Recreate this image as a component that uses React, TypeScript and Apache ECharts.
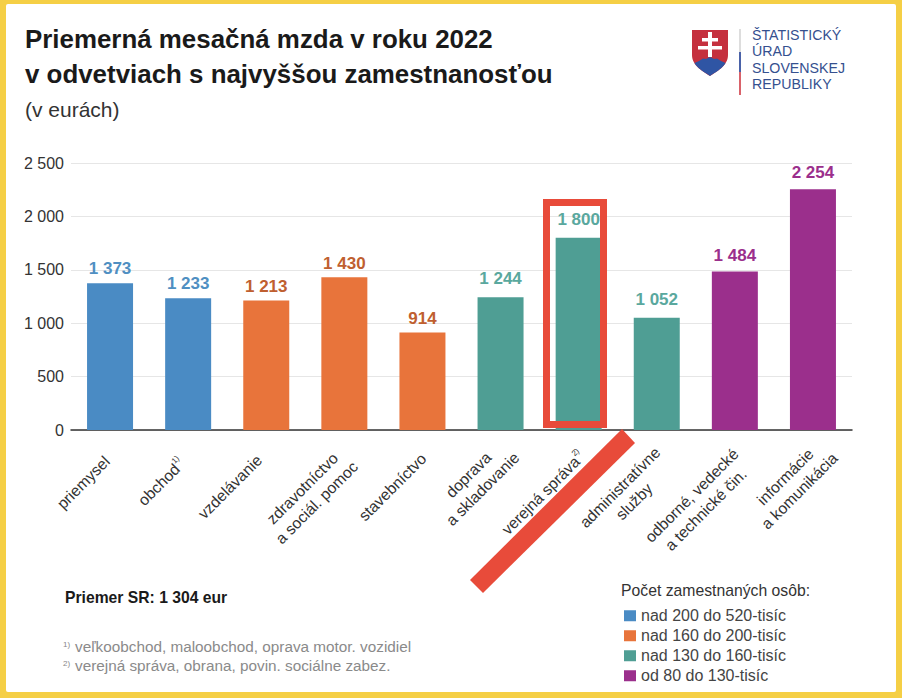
import React, { useEffect, useRef } from "react";
import * as echarts from "echarts";

const categories = [
  "priemysel",
  "obchod",
  "vzdelávanie",
  "zdravotníctvo\na sociál. pomoc",
  "stavebníctvo",
  "doprava\na skladovanie",
  "verejná správa",
  "administratívne\nslužby",
  "odborné, vedecké\na technické čin.",
  "informácie\na komunikácia",
];
const footnoteMarks: Record<string, string> = { obchod: "1)", "verejná správa": "2)" };
// [top, right] inset of each rotated label, tuned separately from the data
const labelInsets = [
  [31.4, 20],
  [31, 24],
  [24, 22],
  [38.4, 14],
  [33.4, 15],
  [33, 4],
  [34, 12],
  [44, 11],
  [46.4, 12],
  [42, 0],
];

const blueValues = [1373, 1233, null, null, null, null, null, null, null, null];
const orangeValues = [null, null, 1213, 1430, 914, null, null, null, null, null];
const tealValues = [null, null, null, null, null, 1244, 1800, 1052, null, null];
const purpleValues = [null, null, null, null, null, null, null, null, 1484, 2254];

const legendNames = ["nad 200 do 520-tisíc", "nad 160 do 200-tisíc", "nad 130 do 160-tisíc", "od 80 do 130-tisíc"];
const barColors = ["#4a8bc4", "#e8743b", "#4f9e94", "#9b2f8c"];
const labelColors = ["#4f8fc2", "#bf5f30", "#5aa89e", "#9b2f8c"];
const labelDistances = [6, 5, 10, 8];

const titleLines = ["Priemerná mesačná mzda v roku 2022", "v odvetviach s najvyššou zamestnanosťou"];
const logoLines = ["ŠTATISTICKÝ", "ÚRAD", "SLOVENSKEJ", "REPUBLIKY"];
const FONT = "'Liberation Sans', Arial, sans-serif";
const RED = "#e84b3a";

const spaced = (v: number) => {
  const s = String(v);
  return s.length > 3 ? s.slice(0, -3) + " " + s.slice(-3) : s;
};

echarts.graphic.registerShape(
  "shieldRed",
  echarts.graphic.extendPath("M692 30 H728 V55 C728 66 716 72 710 76 C704 72 692 66 692 55 Z", {})
);
echarts.graphic.registerShape(
  "shieldBlue",
  echarts.graphic.extendPath(
    "M694.5 63 L699 61 L703 58.5 L706 59 L710 57 L714 59 L717 58.5 L721 61 L725.5 63 C722 69 714 73 710 76 C706 73 698 69 694.5 63 Z",
    {}
  )
);

export default function App() {
  const ref = useRef<HTMLDivElement>(null);
  useEffect(() => {
    document.body.style.margin = "0";
    const chart = echarts.init(ref.current!, null, { renderer: "svg" });
    const series = [blueValues, orangeValues, tealValues, purpleValues].map((data, i) => ({
      type: "bar" as const,
      name: legendNames[i],
      data,
      barWidth: 46,
      barGap: "-100%",
      itemStyle: { color: barColors[i] },
      label: {
        show: true,
        position: "top" as const,
        distance: labelDistances[i],
        fontFamily: FONT,
        fontSize: 17,
        fontWeight: "bold" as const,
        color: labelColors[i],
        formatter: (p: any) => spaced(p.value),
      },
    }));
    chart.setOption({
      animation: false,
      textStyle: { fontFamily: FONT },
      grid: { left: 71, right: 50, top: 163, height: 267 },
      xAxis: {
        type: "category",
        data: categories.map((value, i) => ({
          value,
          textStyle: { padding: [labelInsets[i][0], labelInsets[i][1], 0, 0] },
        })),
        axisTick: { show: false },
        axisLine: { lineStyle: { color: "#333", width: 1.5 } },
        axisLabel: {
          interval: 0,
          rotate: 45,
          margin: 3.5,
          color: "#333",
          fontFamily: FONT,
          fontSize: 15.7,
          lineHeight: 20,
          hideOverlap: false,
          formatter: (v: string) =>
            v
              .split("\n")
              .map((l) => `{c|${l}}` + (footnoteMarks[l] ? `{s|${footnoteMarks[l]}}` : ""))
              .join("\n"),
          rich: {
            c: { align: "center", fontFamily: FONT, fontSize: 15.7, lineHeight: 20, color: "#333" },
            s: { align: "center", fontFamily: FONT, fontSize: 8, lineHeight: 20, color: "#333", verticalAlign: "top" },
          },
        },
      },
      yAxis: {
        type: "value",
        min: 0,
        max: 2500,
        interval: 500,
        axisLine: { show: false },
        axisTick: { show: false },
        splitLine: { lineStyle: { color: "#e6e6e6", width: 1 } },
        axisLabel: {
          margin: 7,
          color: "#333",
          fontFamily: FONT,
          fontSize: 16,
          formatter: (v: number) => spaced(v),
        },
      },
      legend: {
        data: legendNames.map((name) => ({ name, icon: "rect" })),
        orient: "vertical",
        left: 624,
        top: 607,
        itemWidth: 12,
        itemHeight: 11,
        itemGap: 2.5,
        selectedMode: false,
        padding: 0,
        textStyle: { fontFamily: FONT, fontSize: 16, color: "#444", lineHeight: 17.5 },
      },
      series,
      graphic: [
        ...titleLines.map((text, i) => ({
          type: "text",
          x: 25,
          y: 26 + i * 35,
          style: { text, fontFamily: FONT, fontSize: 25.9, fontWeight: "bold", fill: "#1a1a1a" },
        })),
        { type: "text", x: 25, y: 99, style: { text: "(v eurách)", fontFamily: FONT, fontSize: 21, fill: "#333" } },
        // logo
        { type: "shieldRed", x: 0, y: 0, style: { fill: "#c5303e" } },
        { type: "shieldBlue", x: 0, y: 0, style: { fill: "#2f55a4" } },
        { type: "rect", shape: { x: 708, y: 32, width: 4, height: 25 }, style: { fill: "#fff" } },
        { type: "rect", shape: { x: 702, y: 38, width: 16, height: 3.5 }, style: { fill: "#fff" } },
        { type: "rect", shape: { x: 698, y: 46, width: 24, height: 3.5 }, style: { fill: "#fff" } },
        { type: "rect", shape: { x: 739, y: 29, width: 2, height: 23 }, style: { fill: "#dddddd" } },
        { type: "rect", shape: { x: 739, y: 52, width: 2, height: 20 }, style: { fill: "#4a62a8" } },
        { type: "rect", shape: { x: 739, y: 72, width: 2, height: 23 }, style: { fill: "#d9626a" } },
        ...logoLines.map((text, i) => ({
          type: "text",
          x: 752,
          y: 28 + i * 16.4,
          style: { text, fontFamily: FONT, fontSize: 14.2, fill: "#35508f" },
        })),
        // highlight
        {
          type: "rect",
          z: 20,
          shape: { x: 546.5, y: 202.5, width: 57, height: 222 },
          style: { fill: "none", stroke: RED, lineWidth: 7 },
        },
        {
          type: "polygon",
          z: 20,
          shape: { points: [[622, 429], [635, 443], [483, 593], [470, 580]] },
          style: { fill: RED },
        },
        // notes
        {
          type: "text",
          x: 65,
          y: 589,
          style: { text: "Priemer SR: 1 304 eur", fontFamily: FONT, fontSize: 15.7, fontWeight: "bold", fill: "#1a1a1a" },
        },
        { type: "text", x: 63, y: 640, style: { text: "1)", fontFamily: FONT, fontSize: 8, fill: "#888" } },
        {
          type: "text",
          x: 75,
          y: 639,
          style: { text: "veľkoobchod, maloobchod, oprava motor. vozidiel", fontFamily: FONT, fontSize: 15.3, fill: "#8a8a8a" },
        },
        { type: "text", x: 63, y: 659, style: { text: "2)", fontFamily: FONT, fontSize: 8, fill: "#888" } },
        {
          type: "text",
          x: 75,
          y: 658,
          style: { text: "verejná správa, obrana, povin. sociálne zabez.", fontFamily: FONT, fontSize: 15.3, fill: "#8a8a8a" },
        },
        {
          type: "text",
          x: 621,
          y: 582,
          style: { text: "Počet zamestnaných osôb:", fontFamily: FONT, fontSize: 15.75, fill: "#333" },
        },
      ],
    });
    return () => chart.dispose();
  }, []);
  return (
    <div style={{ position: "absolute", left: 0, top: 0, width: 902, height: 698, background: "#f5cf45", overflow: "hidden" }}>
      <div style={{ position: "absolute", left: 6, top: 4, width: 890, height: 688, background: "#fff", borderRadius: 2 }} />
      <div ref={ref} style={{ position: "absolute", left: 0, top: 0, width: 902, height: 698 }} />
    </div>
  );
}
